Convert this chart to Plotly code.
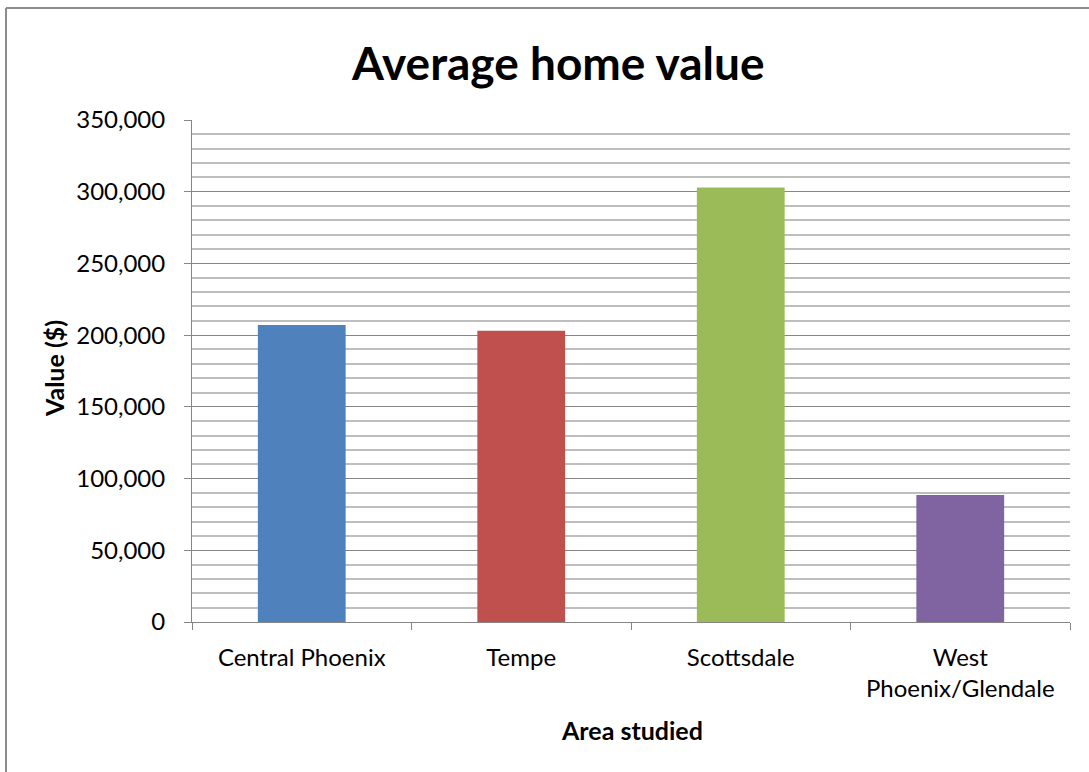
import plotly.graph_objects as go

# Average home value by area
areas = ["Central Phoenix", "Tempe", "Scottsdale", "West<br>Phoenix/Glendale"]
values = [207000, 203000, 303000, 88500]
colors = ["#4F81BD", "#C0504D", "#9BBB59", "#8064A2"]

y_max = 350000
major_step = 50000
minor_step = 10000

W, H = 1089, 772
L, R, T, B = 192, 19, 120, 150
FONT = "Lato"

def px_x(p):
    return (p - L) / (W - L - R)

def px_y(p):
    return (H - B - p) / (H - T - B)

fig = go.Figure(
    go.Bar(
        x=areas,
        y=values,
        marker=dict(color=colors, line=dict(width=0)),
        width=0.4,
        hoverinfo="x+y",
    )
)

fig.update_layout(
    width=W,
    height=H,
    margin=dict(l=L, r=R, t=T, b=B, pad=0),
    paper_bgcolor="white",
    plot_bgcolor="white",
    showlegend=False,
    font=dict(family=FONT, color="#000000", size=24),
    xaxis=dict(
        showline=True,
        linecolor="#868686",
        linewidth=1,
        ticks="outside",
        tickson="boundaries",
        ticklen=7,
        tickcolor="#868686",
        showgrid=False,
        tickfont=dict(size=24, family=FONT),
        ticklabelstandoff=14,
    ),
    yaxis=dict(
        range=[0, y_max],
        dtick=major_step,
        tickformat=",",
        showline=True,
        linecolor="#868686",
        linewidth=1,
        ticks="outside",
        ticklen=7,
        tickcolor="#868686",
        showgrid=True,
        gridcolor="#868686",
        gridwidth=1,
        zeroline=False,
        tickfont=dict(size=24, family=FONT),
        ticklabelstandoff=14,
        minor=dict(dtick=minor_step, showgrid=True, gridcolor="#BEBEBE", gridwidth=1.5, ticks=""),
    ),
    annotations=[
        dict(text="<b>Average home value</b>", x=px_x(557), y=px_y(62),
             xref="paper", yref="paper", showarrow=False,
             font=dict(size=46, family=FONT), xanchor="center", yanchor="middle"),
        dict(text="<b>Value ($)</b>", x=px_x(54), y=px_y(369), textangle=-90,
             xref="paper", yref="paper", showarrow=False,
             font=dict(size=25, family=FONT), xanchor="center", yanchor="middle"),
        dict(text="<b>Area studied</b>", x=px_x(632), y=px_y(730),
             xref="paper", yref="paper", showarrow=False,
             font=dict(size=25, family=FONT), xanchor="center", yanchor="middle"),
    ],
    shapes=[
        dict(type="line", xref="paper", yref="paper",
             x0=px_x(6), x1=px_x(6), y0=px_y(8), y1=px_y(H + 5),
             line=dict(color="#8C8C8C", width=2)),
        dict(type="line", xref="paper", yref="paper",
             x0=px_x(6), x1=px_x(W + 5), y0=px_y(8), y1=px_y(8),
             line=dict(color="#8C8C8C", width=2)),
    ],
)

fig.write_html("out.html")
